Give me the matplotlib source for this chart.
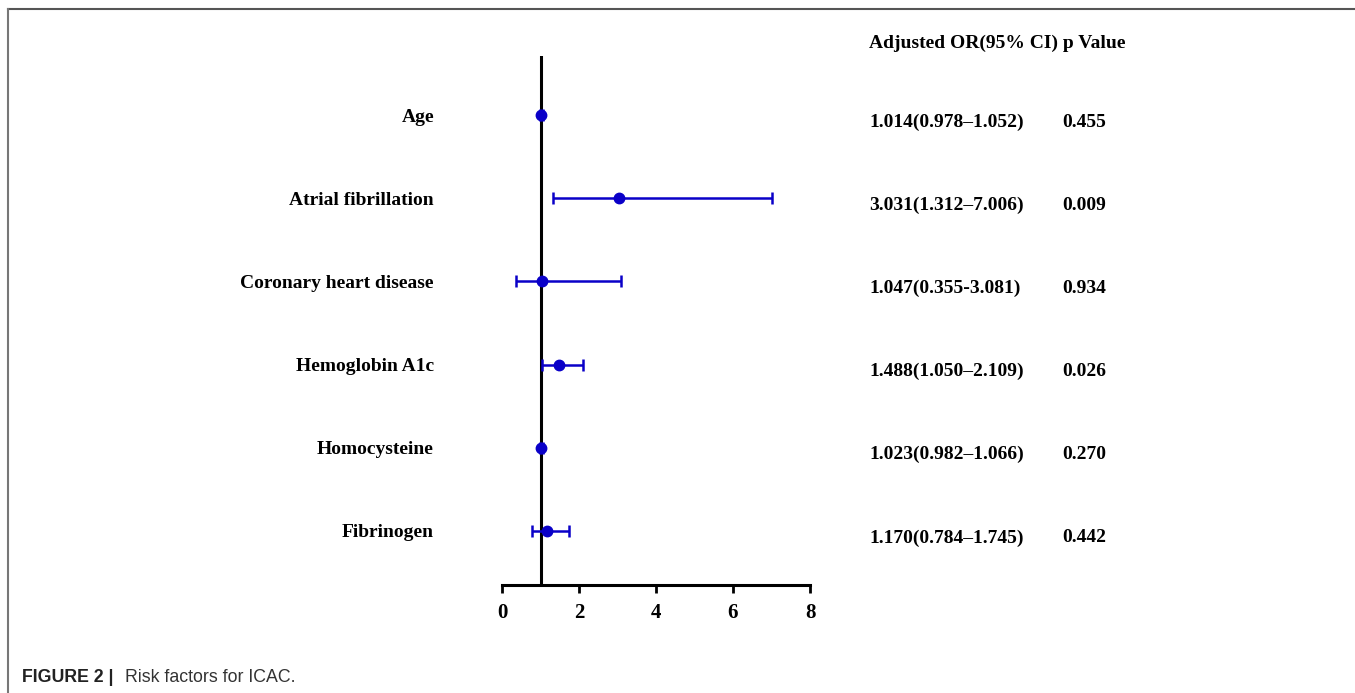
import matplotlib.pyplot as plt
from matplotlib.lines import Line2D
import matplotlib.transforms as mtransforms

# data
factors = ['Age', 'Atrial fibrillation', 'Coronary heart disease',
           'Hemoglobin A1c', 'Homocysteine', 'Fibrinogen']
odds   = [1.014, 3.031, 1.047, 1.488, 1.023, 1.170]
lower  = [0.978, 1.312, 0.355, 1.050, 0.982, 0.784]
upper  = [1.052, 7.006, 3.081, 2.109, 1.066, 1.745]
or_txt = ['1.014(0.978\u20131.052)', '3.031(1.312\u20137.006)', '1.047(0.355-3.081)',
          '1.488(1.050\u20132.109)', '1.023(0.982\u20131.066)', '1.170(0.784\u20131.745)']
p_txt  = ['0.455', '0.009', '0.934', '0.026', '0.270', '0.442']
xticks = [0, 2, 4, 6, 8]

blue = '#0a00c8'
serif = 'Liberation Serif'

W, H = 1355, 693
fig = plt.figure(figsize=(W / 100, H / 100), dpi=100)
ax = fig.add_axes([502 / W, 1 - 585 / H, (810 - 502) / W, (585 - 56) / H])

ypos = list(range(len(factors), 0, -1))
xerr = [[o - l for o, l in zip(odds, lower)], [u - o for o, u in zip(odds, upper)]]

ax.axvline(1, color='black', lw=2.2, zorder=1)
ax.errorbar(odds, ypos, xerr=xerr, fmt='o', color=blue, ecolor=blue,
            elinewidth=1.8, capsize=4, capthick=1.8, markersize=7.5, zorder=3)

ax.set_xlim(0, 8)
ax.set_ylim(0.35, 6.71)
ax.set_xticks(xticks)
ax.set_xticklabels([str(t) for t in xticks], fontfamily=serif, fontweight='bold', fontsize=15)
ax.set_yticks(ypos)
ax.set_yticklabels(factors, fontfamily=serif, fontweight='bold', fontsize=14)
ax.tick_params(axis='y', length=0, pad=49)
ax.tick_params(axis='x', length=6, width=2, direction='out', pad=7)
for s in ['top', 'right', 'left']:
    ax.spines[s].set_visible(False)
ax.spines['bottom'].set_linewidth(2.2)

# table on the right, rows follow the data y (sits a little below each row)
trans = mtransforms.blended_transform_factory(fig.transFigure, ax.transData)
offset = mtransforms.ScaledTranslation(0, -7 / 100, fig.dpi_scale_trans)
for y, a, p in zip(ypos, or_txt, p_txt):
    ax.text(869 / W, y, a, transform=trans + offset, ha='left', va='center',
            fontfamily=serif, fontweight='bold', fontsize=14)
    ax.text(1062 / W, y, p, transform=trans + offset, ha='left', va='center',
            fontfamily=serif, fontweight='bold', fontsize=14)
fig.text(869 / W, 1 - 43 / H, 'Adjusted OR(95% CI) p Value', ha='left', va='center',
         fontfamily=serif, fontweight='bold', fontsize=14)

# frame lines and caption
fig.add_artist(Line2D([8 / W, 1], [1 - 8.5 / H, 1 - 8.5 / H], color='#555555', lw=1.5,
                      transform=fig.transFigure))
fig.add_artist(Line2D([8 / W, 8 / W], [0, 1 - 8.5 / H], color='#777777', lw=1.5,
                      transform=fig.transFigure))
fig.text(22 / W, 1 - 677 / H, 'FIGURE 2 |', ha='left', va='center',
         fontfamily='Liberation Sans', fontweight='bold', fontsize=12.8, color='#222222')
fig.text(125 / W, 1 - 677 / H, 'Risk factors for ICAC.', ha='left', va='center',
         fontfamily='Liberation Sans', fontsize=12.8, color='#333333')

fig.savefig('out.png', dpi=100, facecolor='white')
